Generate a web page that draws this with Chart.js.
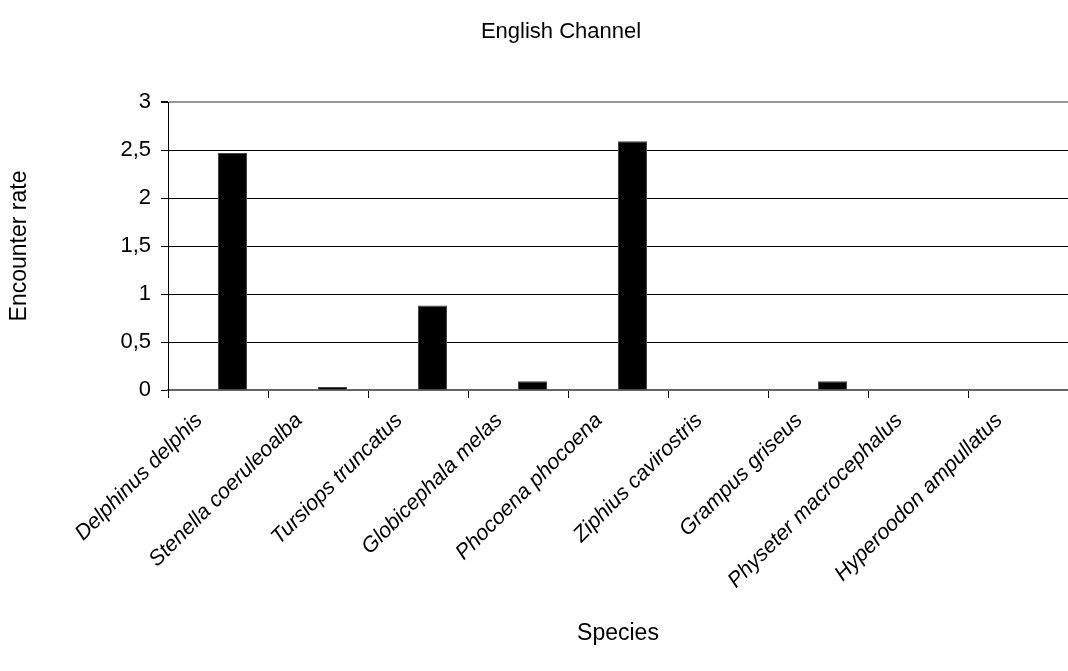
<!DOCTYPE html>
<html>
<head>
<meta charset="utf-8">
<script src="https://cdn.jsdelivr.net/npm/chart.js@4"></script>
<style>
  html, body { margin: 0; padding: 0; background: #fff; }
  #chart { display: block; }
</style>
</head>
<body>
<canvas id="chart" width="1068" height="671"></canvas>
<script>
// chart values
const species = [
  'Delphinus delphis',
  'Stenella coeruleoalba',
  'Tursiops truncatus',
  'Globicephala melas',
  'Phocoena phocoena',
  'Ziphius cavirostris',
  'Grampus griseus',
  'Physeter macrocephalus',
  'Hyperoodon ampullatus'
];
const blankSeries = [null, null, null, null, null, null, null, null, null];
const encounterRate = [2.47, 0.03, 0.88, 0.09, 2.59, 0, 0.09, 0, 0];
const yTicks = [0, 0.5, 1, 1.5, 2, 2.5, 3];

const FONT = "'Liberation Sans', Arial, sans-serif";

new Chart(document.getElementById('chart'), {
  type: 'bar',
  data: {
    labels: species,
    datasets: [
      { label: '', data: blankSeries, backgroundColor: 'transparent' },
      {
        label: 'Encounter rate',
        data: encounterRate,
        backgroundColor: '#000',
        borderColor: '#444',
        borderWidth: 1
      }
    ]
  },
  options: {
    responsive: false,
    animation: false,
    categoryPercentage: 0.58,
    barPercentage: 1.0,
    layout: { padding: { left: 54, top: 0, right: 0, bottom: 0 } },
    plugins: {
      legend: { display: false },
      tooltip: { enabled: false },
      title: {
        display: true,
        text: 'English Channel',
        color: '#000',
        font: { family: FONT, size: 22, weight: 'normal', lineHeight: 1.2 },
        padding: { top: 19, bottom: 56.6 }
      }
    },
    scales: {
      x: {
        grid: {
          drawOnChartArea: false,
          drawTicks: true,
          tickLength: 8,
          color: '#000',
          offset: true
        },
        border: { display: true, color: '#666', width: 2 },
        ticks: {
          color: '#000',
          autoSkip: false,
          minRotation: 45,
          maxRotation: 45,
          padding: 10,
          labelOffset: -19,
          font: { family: FONT, size: 21.5, style: 'italic' }
        },
        title: {
          display: true,
          text: 'Species',
          color: '#000',
          font: { family: FONT, size: 23, lineHeight: 1.2 },
          padding: { top: 0, bottom: 24 }
        },
        afterFit: s => { s.height = 281; }
      },
      y: {
        min: 0,
        max: 3,
        afterBuildTicks: s => { s.ticks = yTicks.map(v => ({ value: v })); },
        grid: {
          color: ctx => (ctx.tick && (ctx.tick.value === 3 || ctx.tick.value === 0)) ? '#999' : '#000',
          lineWidth: ctx => (ctx.tick && ctx.tick.value === 3) ? 2 : 1,
          tickColor: '#000',
          tickLength: 7
        },
        border: { display: true, color: '#000', width: 1 },
        ticks: {
          color: '#000',
          padding: 10,
          font: { family: FONT, size: 22 },
          callback: v => String(v).replace('.', ',')
        },
        title: {
          display: true,
          text: 'Encounter rate',
          color: '#000',
          font: { family: FONT, size: 23, lineHeight: 1.2 },
          padding: { top: -47.8, bottom: 0 }
        },
        afterFit: s => { s.width = 114; }
      }
    }
  }
});
</script>
</body>
</html>
